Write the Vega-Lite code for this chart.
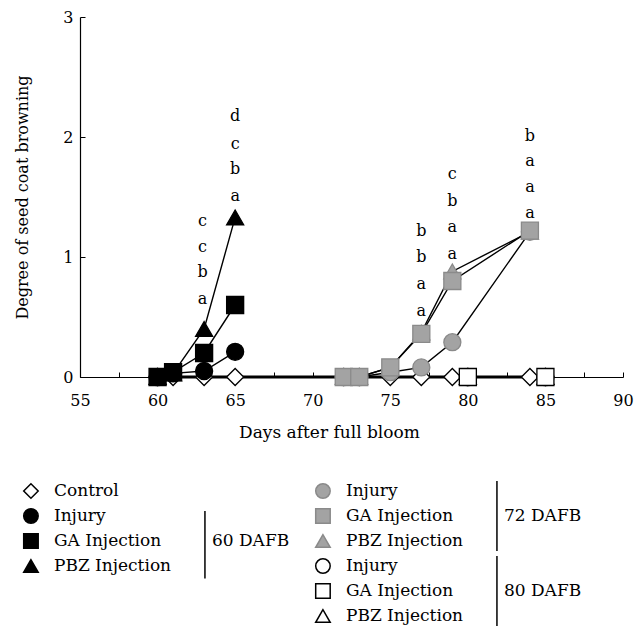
{
  "$schema": "https://vega.github.io/schema/vega-lite/v6.json",
  "background": "white",
  "padding": {"left": 14, "top": 9, "right": 5, "bottom": 5},
  "config": {
    "view": {"stroke": null},
    "font": "DejaVu Serif",
    "concat": {"spacing": 40},
    "axis": {"grid": false, "domainColor": "black", "tickColor": "black", "labelColor": "black", "titleColor": "black", "labelFont": "DejaVu Serif", "titleFont": "DejaVu Serif", "labelFontSize": 16, "titleFontSize": 16, "titleFontWeight": "normal", "labelFlush": false}
  },
  "datasets": {
    "obs": [
      {"series": "Control", "day": 60, "value": 0},
      {"series": "Control", "day": 61, "value": 0},
      {"series": "Control", "day": 63, "value": 0},
      {"series": "Control", "day": 65, "value": 0},
      {"series": "Control", "day": 72, "value": 0},
      {"series": "Control", "day": 73, "value": 0},
      {"series": "Control", "day": 75, "value": 0},
      {"series": "Control", "day": 77, "value": 0},
      {"series": "Control", "day": 79, "value": 0},
      {"series": "Control", "day": 80, "value": 0},
      {"series": "Control", "day": 84, "value": 0},
      {"series": "Control", "day": 85, "value": 0},
      {"series": "Injury 60", "day": 60, "value": 0},
      {"series": "Injury 60", "day": 61, "value": 0.03},
      {"series": "Injury 60", "day": 63, "value": 0.05},
      {"series": "Injury 60", "day": 65, "value": 0.21},
      {"series": "PBZ 60", "day": 60, "value": 0},
      {"series": "PBZ 60", "day": 61, "value": 0.03},
      {"series": "PBZ 60", "day": 63, "value": 0.4},
      {"series": "PBZ 60", "day": 65, "value": 1.33},
      {"series": "GA 60", "day": 60, "value": 0},
      {"series": "GA 60", "day": 61, "value": 0.04},
      {"series": "GA 60", "day": 63, "value": 0.2},
      {"series": "GA 60", "day": 65, "value": 0.6},
      {"series": "Injury 72", "day": 72, "value": 0},
      {"series": "Injury 72", "day": 73, "value": 0},
      {"series": "Injury 72", "day": 75, "value": 0.04},
      {"series": "Injury 72", "day": 77, "value": 0.08},
      {"series": "Injury 72", "day": 79, "value": 0.29},
      {"series": "Injury 72", "day": 84, "value": 1.21},
      {"series": "PBZ 72", "day": 72, "value": 0},
      {"series": "PBZ 72", "day": 73, "value": 0},
      {"series": "PBZ 72", "day": 75, "value": 0.08},
      {"series": "PBZ 72", "day": 77, "value": 0.37},
      {"series": "PBZ 72", "day": 79, "value": 0.88},
      {"series": "PBZ 72", "day": 84, "value": 1.21},
      {"series": "GA 72", "day": 72, "value": 0},
      {"series": "GA 72", "day": 73, "value": 0},
      {"series": "GA 72", "day": 75, "value": 0.08},
      {"series": "GA 72", "day": 77, "value": 0.36},
      {"series": "GA 72", "day": 79, "value": 0.8},
      {"series": "GA 72", "day": 84, "value": 1.22},
      {"series": "Injury 80", "day": 80, "value": 0},
      {"series": "Injury 80", "day": 85, "value": 0},
      {"series": "PBZ 80", "day": 80, "value": 0},
      {"series": "PBZ 80", "day": 85, "value": 0},
      {"series": "GA 80", "day": 80, "value": 0},
      {"series": "GA 80", "day": 85, "value": 0}
    ],
    "letters": [
      {"day": 65, "level": 2.175, "letter": "d"},
      {"day": 65, "level": 1.94, "letter": "c"},
      {"day": 65, "level": 1.73, "letter": "b"},
      {"day": 65, "level": 1.51, "letter": "a"},
      {"day": 62.9, "level": 1.3, "letter": "c"},
      {"day": 62.9, "level": 1.08, "letter": "c"},
      {"day": 62.9, "level": 0.875, "letter": "b"},
      {"day": 62.9, "level": 0.65, "letter": "a"},
      {"day": 77, "level": 1.22, "letter": "b"},
      {"day": 77, "level": 1.0, "letter": "b"},
      {"day": 77, "level": 0.775, "letter": "a"},
      {"day": 77, "level": 0.55, "letter": "a"},
      {"day": 79, "level": 1.69, "letter": "c"},
      {"day": 79, "level": 1.47, "letter": "b"},
      {"day": 79, "level": 1.25, "letter": "a"},
      {"day": 79, "level": 1.025, "letter": "a"},
      {"day": 84, "level": 2.01, "letter": "b"},
      {"day": 84, "level": 1.8, "letter": "a"},
      {"day": 84, "level": 1.58, "letter": "a"},
      {"day": 84, "level": 1.37, "letter": "a"}
    ],
    "leg": [
      {"series": "Control", "label": "Control", "col": 0, "row": 0},
      {"series": "Injury 60", "label": "Injury", "col": 0, "row": 1},
      {"series": "GA 60", "label": "GA Injection", "col": 0, "row": 2},
      {"series": "PBZ 60", "label": "PBZ Injection", "col": 0, "row": 3},
      {"series": "Injury 72", "label": "Injury", "col": 1, "row": 0},
      {"series": "GA 72", "label": "GA Injection", "col": 1, "row": 1},
      {"series": "PBZ 72", "label": "PBZ Injection", "col": 1, "row": 2},
      {"series": "Injury 80", "label": "Injury", "col": 1, "row": 3},
      {"series": "GA 80", "label": "GA Injection", "col": 1, "row": 4},
      {"series": "PBZ 80", "label": "PBZ Injection", "col": 1, "row": 5}
    ],
    "brackets": [
      {"group": "60 DAFB", "col": 0, "top": 0.8, "bottom": 3.5, "mid": 2},
      {"group": "72 DAFB", "col": 1, "top": -0.4, "bottom": 2.4, "mid": 1},
      {"group": "80 DAFB", "col": 1, "top": 2.6, "bottom": 5.4, "mid": 4}
    ]
  },
  "vconcat": [
    {
      "width": 543,
      "height": 360,
      "encoding": {
        "x": {"field": "day", "type": "quantitative", "scale": {"domain": [55, 90]},
          "axis": {"title": "Days after full bloom", "titleFontSize": 17, "titleX": 249, "values": [55, 57.5, 60, 62.5, 65, 67.5, 70, 72.5, 75, 77.5, 80, 82.5, 85, 87.5, 90],
            "labelExpr": "datum.value % 5 === 0 ? datum.label : ''", "tickSize": -5, "labelPadding": 20, "titlePadding": 16, "domainWidth": 1.2}},
        "y": {"field": "value", "type": "quantitative", "scale": {"domain": [0, 3]},
          "axis": {"title": "Degree of seed coat browning", "values": [0, 1, 2, 3], "tickSize": -5, "labelPadding": 12, "titlePadding": 32, "domainWidth": 1.2}}
      },
      "layer": [
        {
          "data": {"name": "obs"},
          "transform": [{"filter": "datum.series === 'Control'"}],
          "mark": {"type": "line", "color": "black", "strokeWidth": 3}
        },
        {
          "data": {"name": "obs"},
          "transform": [{"filter": "datum.series !== 'Control'"}],
          "mark": {"type": "line", "color": "black", "strokeWidth": 1.4},
          "encoding": {"detail": {"field": "series"}}
        },
        {
          "data": {"name": "obs"},
          "mark": {"type": "point", "filled": true, "size": 290, "strokeWidth": 1.3, "opacity": 1},
          "encoding": {
            "shape": {"field": "series", "scale": {"domain": ["Control", "Injury 60", "PBZ 60", "GA 60", "Injury 72", "PBZ 72", "GA 72", "Injury 80", "PBZ 80", "GA 80"], "range": ["diamond", "circle", "triangle-up", "square", "circle", "triangle-up", "square", "circle", "triangle-up", "square"]}, "legend": null},
            "fill": {"field": "series", "scale": {"domain": ["Control", "Injury 60", "PBZ 60", "GA 60", "Injury 72", "PBZ 72", "GA 72", "Injury 80", "PBZ 80", "GA 80"], "range": ["white", "black", "black", "black", "#a3a3a3", "#a3a3a3", "#a3a3a3", "white", "white", "white"]}, "legend": null},
            "stroke": {"field": "series", "scale": {"domain": ["Control", "Injury 60", "PBZ 60", "GA 60", "Injury 72", "PBZ 72", "GA 72", "Injury 80", "PBZ 80", "GA 80"], "range": ["black", "black", "black", "black", "#8a8a8a", "#8a8a8a", "#8a8a8a", "black", "black", "black"]}, "legend": null}
          }
        },
        {
          "data": {"name": "letters"},
          "mark": {"type": "text", "fontSize": 16, "baseline": "middle", "align": "center", "color": "black"},
          "encoding": {
            "x": {"field": "day", "type": "quantitative"},
            "y": {"field": "level", "type": "quantitative"},
            "text": {"field": "letter"}
          }
        }
      ]
    },
    {
      "width": 584,
      "height": 125,
      "encoding": {
        "x": {"field": "col", "type": "quantitative", "scale": {"domain": [0.168, 2.168]}, "axis": null},
        "y": {"field": "row", "type": "quantitative", "scale": {"domain": [0, 5], "reverse": true}, "axis": null}
      },
      "layer": [
        {
          "data": {"name": "leg"},
          "mark": {"type": "point", "filled": true, "size": 210, "strokeWidth": 1.5, "opacity": 1},
          "encoding": {
            "shape": {"field": "series", "scale": {"domain": ["Control", "Injury 60", "PBZ 60", "GA 60", "Injury 72", "PBZ 72", "GA 72", "Injury 80", "PBZ 80", "GA 80"], "range": ["diamond", "circle", "triangle-up", "square", "circle", "triangle-up", "square", "circle", "triangle-up", "square"]}, "legend": null},
            "fill": {"field": "series", "scale": {"domain": ["Control", "Injury 60", "PBZ 60", "GA 60", "Injury 72", "PBZ 72", "GA 72", "Injury 80", "PBZ 80", "GA 80"], "range": ["white", "black", "black", "black", "#a3a3a3", "#a3a3a3", "#a3a3a3", "white", "white", "white"]}, "legend": null},
            "stroke": {"field": "series", "scale": {"domain": ["Control", "Injury 60", "PBZ 60", "GA 60", "Injury 72", "PBZ 72", "GA 72", "Injury 80", "PBZ 80", "GA 80"], "range": ["black", "black", "black", "black", "#8a8a8a", "#8a8a8a", "#8a8a8a", "black", "black", "black"]}, "legend": null}
          }
        },
        {
          "data": {"name": "leg"},
          "mark": {"type": "text", "align": "left", "baseline": "middle", "dx": 23, "fontSize": 17, "color": "black"},
          "encoding": {"text": {"field": "label"}}
        },
        {
          "data": {"name": "brackets"},
          "mark": {"type": "rule", "xOffset": 174, "strokeWidth": 1.5, "color": "black"},
          "encoding": {
            "y": {"field": "top", "type": "quantitative"},
            "y2": {"field": "bottom"}
          }
        },
        {
          "data": {"name": "brackets"},
          "mark": {"type": "text", "align": "left", "baseline": "middle", "dx": 181, "fontSize": 17, "color": "black"},
          "encoding": {
            "y": {"field": "mid", "type": "quantitative"},
            "text": {"field": "group"}
          }
        }
      ]
    }
  ]
}
